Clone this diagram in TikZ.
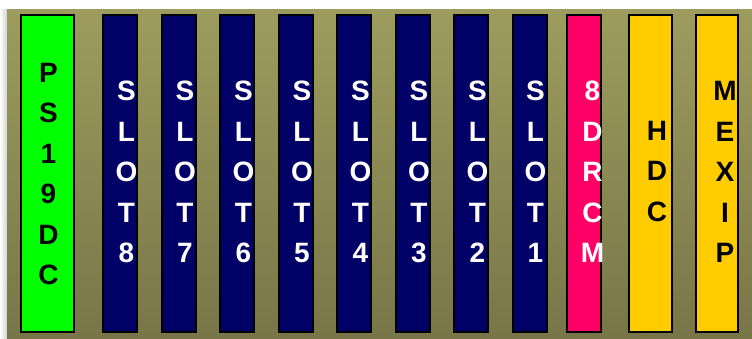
\documentclass[tikz,border=0pt]{standalone}
\usepackage{fontspec}
\setmainfont{Liberation Sans}
\definecolor{bgtop}{RGB}{157,156,94}
\definecolor{bgbot}{RGB}{120,118,72}
\definecolor{psgreen}{RGB}{0,255,0}
\definecolor{slotnavy}{RGB}{0,0,102}
\definecolor{drcmpink}{RGB}{255,0,102}
\definecolor{hdcyellow}{RGB}{255,204,0}
\tikzset{
  card/.style={draw=black, line width=2.2pt, anchor=north west, inner sep=0pt, minimum height=317pt},
  lbl/.style={font=\bfseries\fontsize{28}{40.5}\selectfont, align=center, inner sep=0pt, anchor=center},
}
\begin{document}
\begin{tikzpicture}[x=1pt,y=-1pt]
\useasboundingbox (0,0) rectangle (752,338);
\fill[white] (0,0) rectangle (752,338);
\shade[left color=white, right color=gray!35] (0,9) rectangle (7,338);
\shade[top color=bgtop, bottom color=bgbot] (7,9) rectangle (752,338);
% cards
\node[card, fill=psgreen, minimum width=53pt] (ps) at (20,14) {};
\node[card, fill=slotnavy, minimum width=34pt] (s8) at (102,14) {};
\node[card, fill=slotnavy, minimum width=34pt] (s7) at (160.5,14) {};
\node[card, fill=slotnavy, minimum width=34pt] (s6) at (219,14) {};
\node[card, fill=slotnavy, minimum width=34pt] (s5) at (277.5,14) {};
\node[card, fill=slotnavy, minimum width=34pt] (s4) at (336,14) {};
\node[card, fill=slotnavy, minimum width=34pt] (s3) at (394.5,14) {};
\node[card, fill=slotnavy, minimum width=34pt] (s2) at (453,14) {};
\node[card, fill=slotnavy, minimum width=34pt] (s1) at (512,14) {};
\node[card, fill=drcmpink, minimum width=34pt] (dr) at (566,14) {};
\node[card, fill=hdcyellow, minimum width=43pt] (hd) at (628,14) {};
\node[card, fill=hdcyellow, minimum width=42pt] (mx) at (695,14) {};
% labels
\node[lbl, text=black] (tps) at (48.5,174) {P\\S\\1\\9\\D\\C};
\node[lbl, text=white] (t8) at (126.5,172) {S\\L\\O\\T\\8};
\node[lbl, text=white] (t7) at (185,172) {S\\L\\O\\T\\7};
\node[lbl, text=white] (t6) at (243.5,172) {S\\L\\O\\T\\6};
\node[lbl, text=white] (t5) at (302,172) {S\\L\\O\\T\\5};
\node[lbl, text=white] (t4) at (360.5,172) {S\\L\\O\\T\\4};
\node[lbl, text=white] (t3) at (419,172) {S\\L\\O\\T\\3};
\node[lbl, text=white] (t2) at (477.5,172) {S\\L\\O\\T\\2};
\node[lbl, text=white] (t1) at (535.5,172) {S\\L\\O\\T\\1};
\node[lbl, text=white] (tdr) at (592.5,172) {8\\D\\R\\C\\M};
\node[lbl, text=black] (thd) at (657,171) {H\\D\\C};
\node[lbl, text=black] (tmx) at (725,172) {M\\E\\X\\I\\P};
\end{tikzpicture}
\end{document}
